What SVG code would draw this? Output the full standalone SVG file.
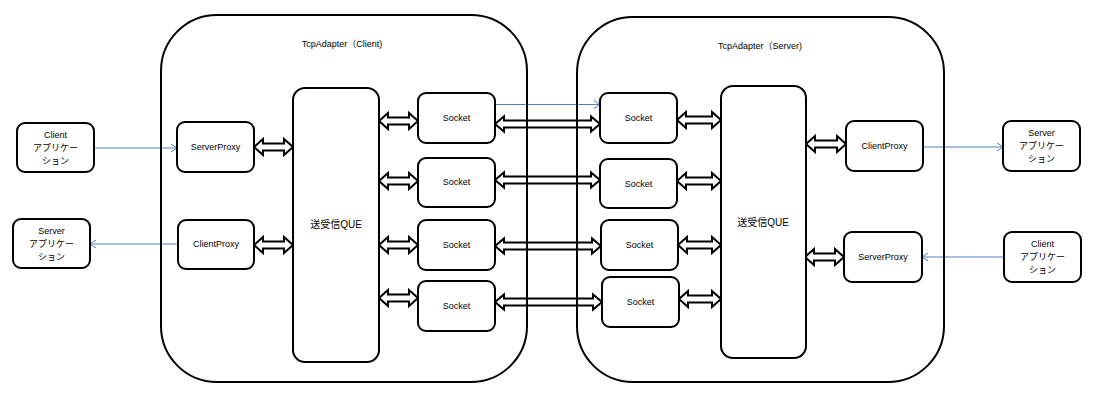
<svg xmlns="http://www.w3.org/2000/svg" width="1097" height="401" viewBox="0 0 1097 401">
<style>
.bg{fill:#ffffff}
.cont{fill:none;stroke:#000;stroke-width:2}
.box{fill:#fff;stroke:#000;stroke-width:2}
.blk{fill:#fff;stroke:#000;stroke-width:2;stroke-linejoin:miter}
.ln{fill:none;stroke:#4F81BD;stroke-width:1}
text{font-family:"Liberation Sans","Noto Sans CJK JP",sans-serif;font-size:9px;fill:#000;text-anchor:middle}
.que{font-size:10px}
</style>
<defs>
<marker id="chev" markerWidth="8" markerHeight="10" refX="7" refY="5" orient="auto" markerUnits="userSpaceOnUse">
<path d="M1,1 L7,5 L1,9" fill="none" stroke="#4F81BD" stroke-width="1"/>
</marker>
</defs>
<rect class="bg" x="0" y="0" width="1097" height="401"/>

<g id="connectors">
<!-- block double arrows -->
<path class="blk" d="M254,147 L263,139 L263,143.5 L284,143.5 L284,139 L293,147 L284,155 L284,150.5 L263,150.5 L263,155 Z"/>
<path class="blk" d="M254,245 L263,237 L263,241.5 L284,241.5 L284,237 L293,245 L284,253 L284,248.5 L263,248.5 L263,253 Z"/>
<path class="blk" d="M379,121 L388,113 L388,117.5 L409,117.5 L409,113 L418,121 L409,129 L409,124.5 L388,124.5 L388,129 Z"/>
<path class="blk" d="M379,181 L388,173 L388,177.5 L409,177.5 L409,173 L418,181 L409,189 L409,184.5 L388,184.5 L388,189 Z"/>
<path class="blk" d="M379,245 L388,237 L388,241.5 L409,241.5 L409,237 L418,245 L409,253 L409,248.5 L388,248.5 L388,253 Z"/>
<path class="blk" d="M379,298 L388,290 L388,294.5 L409,294.5 L409,290 L418,298 L409,306 L409,301.5 L388,301.5 L388,306 Z"/>
<path class="blk" d="M495,124 L504,116.5 L504,120.5 L591,120.5 L591,116.5 L600,124 L591,131.5 L591,127.5 L504,127.5 L504,131.5 Z"/>
<path class="blk" d="M495,180 L504,172.5 L504,176.5 L591,176.5 L591,172.5 L600,180 L591,187.5 L591,183.5 L504,183.5 L504,187.5 Z"/>
<path class="blk" d="M495,246 L504,238.5 L504,242.5 L592,242.5 L592,238.5 L601,246 L592,253.5 L592,249.5 L504,249.5 L504,253.5 Z"/>
<path class="blk" d="M495,302 L504,294.5 L504,298.5 L593,298.5 L593,294.5 L602,302 L593,309.5 L593,305.5 L504,305.5 L504,309.5 Z"/>
<path class="blk" d="M677,120 L686,112 L686,116.5 L712,116.5 L712,112 L721,120 L712,128 L712,123.5 L686,123.5 L686,128 Z"/>
<path class="blk" d="M677,181 L686,173 L686,177.5 L712,177.5 L712,173 L721,181 L712,189 L712,184.5 L686,184.5 L686,189 Z"/>
<path class="blk" d="M678,245 L687,237 L687,241.5 L712,241.5 L712,237 L721,245 L712,253 L712,248.5 L687,248.5 L687,253 Z"/>
<path class="blk" d="M679,299 L688,291 L688,295.5 L712,295.5 L712,291 L721,299 L712,307 L712,302.5 L688,302.5 L688,307 Z"/>
<path class="blk" d="M806,144 L815,136 L815,140.5 L837,140.5 L837,136 L846,144 L837,152 L837,147.5 L815,147.5 L815,152 Z"/>
<path class="blk" d="M805,257 L814,249 L814,253.5 L835,253.5 L835,249 L844,257 L835,265 L835,260.5 L814,260.5 L814,265 Z"/>
<!-- blue lines -->
<line class="ln" x1="94" y1="148" x2="177" y2="148" marker-end="url(#chev)"/>
<line class="ln" x1="178" y1="244" x2="90" y2="244" marker-end="url(#chev)"/>
<line class="ln" x1="496" y1="104.5" x2="600" y2="104.5" marker-end="url(#chev)"/>
<line class="ln" x1="923" y1="147" x2="1003" y2="147" marker-end="url(#chev)"/>
<line class="ln" x1="1004" y1="257" x2="922" y2="257" marker-end="url(#chev)"/>
</g>

<g id="tcp-client">
<rect class="cont" x="161" y="15" width="366" height="367" rx="56"/>
<text x="342" y="47">TcpAdapter（Client)</text>
</g>
<g id="tcp-server">
<rect class="cont" x="577" y="17" width="367" height="365" rx="56"/>
<text x="760" y="49">TcpAdapter（Server)</text>
</g>

<g id="client-app-left">
<rect class="box" x="17" y="123" width="77" height="49" rx="8"/>
<text x="55.5" y="138">Client</text>
<text x="55.5" y="151">アプリケー</text>
<text x="55.5" y="164">ション</text>
</g>
<g id="server-app-left">
<rect class="box" x="13" y="219" width="77" height="49" rx="8"/>
<text x="51.5" y="234">Server</text>
<text x="51.5" y="247">アプリケー</text>
<text x="51.5" y="260">ション</text>
</g>
<g id="serverproxy-left">
<rect class="box" x="177" y="122" width="77" height="50" rx="8"/>
<text x="215.5" y="150">ServerProxy</text>
</g>
<g id="clientproxy-left">
<rect class="box" x="178" y="220" width="76" height="49" rx="8"/>
<text x="216" y="247">ClientProxy</text>
</g>
<g id="que-left">
<rect class="box" x="293" y="88" width="86" height="274" rx="12"/>
<text class="que" x="336" y="228">送受信QUE</text>
</g>
<g id="socket-l1">
<rect class="box" x="418" y="93" width="77" height="50" rx="8"/>
<text x="456.5" y="121">Socket</text>
</g>
<g id="socket-l2">
<rect class="box" x="418" y="158" width="77" height="49" rx="8"/>
<text x="456.5" y="185">Socket</text>
</g>
<g id="socket-l3">
<rect class="box" x="418" y="220" width="77" height="50" rx="8"/>
<text x="456.5" y="248">Socket</text>
</g>
<g id="socket-l4">
<rect class="box" x="418" y="281" width="77" height="50" rx="8"/>
<text x="456.5" y="309">Socket</text>
</g>
<g id="socket-r1">
<rect class="box" x="600" y="93" width="77" height="50" rx="8"/>
<text x="638.5" y="121">Socket</text>
</g>
<g id="socket-r2">
<rect class="box" x="600" y="159" width="77" height="49" rx="8"/>
<text x="638.5" y="187">Socket</text>
</g>
<g id="socket-r3">
<rect class="box" x="601" y="220" width="77" height="50" rx="8"/>
<text x="639.5" y="248">Socket</text>
</g>
<g id="socket-r4">
<rect class="box" x="602" y="277" width="77" height="50" rx="8"/>
<text x="640.5" y="305">Socket</text>
</g>
<g id="que-right">
<rect class="box" x="721" y="86" width="85" height="272" rx="12"/>
<text class="que" x="763" y="226">送受信QUE</text>
</g>
<g id="clientproxy-right">
<rect class="box" x="846" y="121" width="77" height="50" rx="8"/>
<text x="884.5" y="149">ClientProxy</text>
</g>
<g id="serverproxy-right">
<rect class="box" x="844" y="232" width="78" height="50" rx="8"/>
<text x="883" y="260">ServerProxy</text>
</g>
<g id="server-app-right">
<rect class="box" x="1003" y="121" width="77" height="50" rx="8"/>
<text x="1041.5" y="136">Server</text>
<text x="1041.5" y="149">アプリケー</text>
<text x="1041.5" y="162">ション</text>
</g>
<g id="client-app-right">
<rect class="box" x="1004" y="232" width="77" height="50" rx="8"/>
<text x="1042.5" y="247">Client</text>
<text x="1042.5" y="260">アプリケー</text>
<text x="1042.5" y="273">ション</text>
</g>
</svg>
